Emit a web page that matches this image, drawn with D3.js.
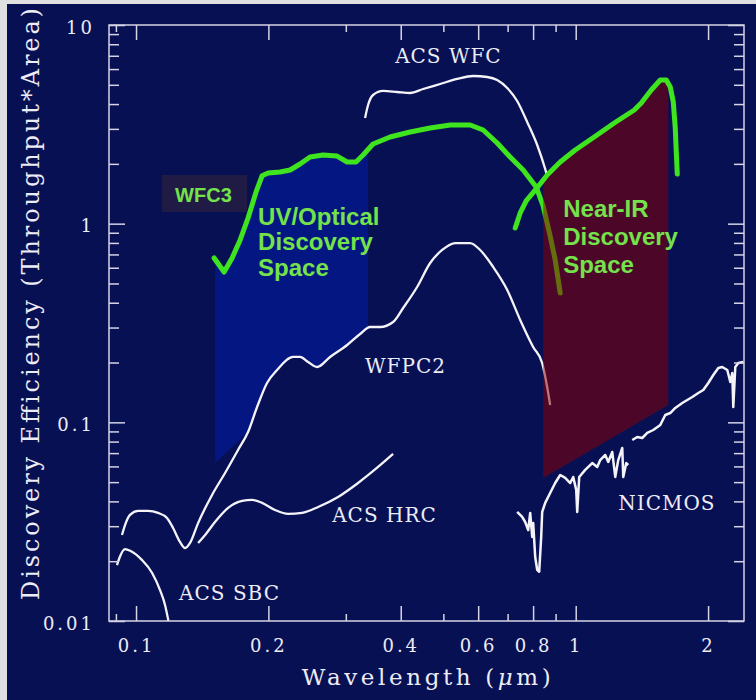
<!DOCTYPE html>
<html><head><meta charset="utf-8">
<script src="https://cdn.jsdelivr.net/npm/d3@7"></script>
<style>html,body{margin:0;padding:0;background:#e0e0e0;}svg{display:block;}</style>
</head><body>
<svg id="chart" width="756" height="700"></svg>
<script>
// ---------- data (wavelength in µm, discovery efficiency) ----------
const wavelengthTicks = [0.1, 0.2, 0.4, 0.6, 0.8, 1, 2];
const wavelengthTickLabels = ["0.1", "0.2", "0.4", "0.6", "0.8", "1", "2"];
const efficiencyTicks = [0.01, 0.1, 1, 10];
const efficiencyTickLabels = ["0.01", "0.1", "1", "10"];

const acsSbc = [[0.0905,0.0191],[0.0920,0.0212],[0.0944,0.0230],[0.0972,0.0225],[0.1031,0.0203],[0.1088,0.01745],[0.1134,0.0143],[0.1164,0.01205],[0.1185,0.0100]];

const wfpc2 = [[0.0929,0.0271],[0.0944,0.0304],[0.0969,0.0342],[0.1011,0.0358],[0.1065,0.0358],[0.1122,0.0350],[0.1176,0.0330],[0.1214,0.0294],[0.1259,0.0250],[0.1293,0.0233],[0.1327,0.0247],[0.1384,0.0311],[0.1489,0.0431],[0.1594,0.0556],[0.1706,0.0726],[0.1798,0.0894],[0.1885,0.1195],[0.1986,0.1578],[0.2093,0.1835],[0.2276,0.2133],[0.2361,0.2133],[0.2462,0.2012],[0.2581,0.1899],[0.2763,0.2133],[0.3021,0.2450],[0.3233,0.2784],[0.3406,0.3019],[0.3590,0.3019],[0.3843,0.3200],[0.4050,0.3763],[0.4358,0.4801],[0.4666,0.6339],[0.4969,0.7371],[0.5318,0.7990],[0.5754,0.7990],[0.6063,0.7371],[0.6491,0.6052],[0.6987,0.4637],[0.7477,0.3275],[0.8002,0.2394],[0.8388,0.1989],[0.8611,0.1506],[0.8747,0.1223]];

const acsHrc = [[0.1384,0.0247],[0.1436,0.0271],[0.1512,0.0315],[0.1620,0.0371],[0.1743,0.0402],[0.1836,0.0407],[0.1935,0.0393],[0.2071,0.0362],[0.2217,0.0346],[0.2386,0.0350],[0.2595,0.0375],[0.2881,0.0421],[0.3199,0.0495],[0.3552,0.0596],[0.3843,0.0693]];

const acsWfc = [[0.3318,3.403],[0.3371,3.956],[0.3460,4.444],[0.3648,4.655],[0.3925,4.601],[0.4202,4.548],[0.4498,4.764],[0.4916,5.048],[0.5374,5.349],[0.5845,5.538],[0.6290,5.474],[0.6628,5.288],[0.6987,4.820],[0.7359,4.145],[0.7756,3.250],[0.8173,2.489],[0.8523,1.885],[0.8611,1.738]];

const nicmos = [[0.7359,0.0354],[0.7555,0.0334],[0.7675,0.0315],[0.7797,0.0287],[0.7879,0.0350],[0.7962,0.0265],[0.8004,0.0311],[0.8088,0.0210],[0.8173,0.0181],[0.8259,0.0177],[0.8346,0.0265],[0.8390,0.0354],[0.8523,0.0393],[0.8747,0.0441],[0.8980,0.0495],[0.9220,0.0543],[0.9465,0.0525],[0.9716,0.0495],[0.9870,0.0531],[1.0026,0.0457],[1.0079,0.0354],[1.0185,0.0531],[1.0510,0.0576],[1.0904,0.0624],[1.1193,0.0596],[1.1370,0.0646],[1.1672,0.0685],[1.1857,0.0632],[1.2108,0.0709],[1.2300,0.0531],[1.2495,0.0646],[1.2760,0.0743],[1.2827,0.0531],[1.3030,0.0624],[1.3168,0.0610],null,[1.3447,0.0815],[1.3803,0.0844],[1.4167,0.0834],[1.4543,0.0884],[1.5009,0.0915],[1.5571,0.0970],[1.5984,0.1089],[1.6408,0.1114],[1.6843,0.1181],[1.7473,0.1251],[1.7936,0.1295],[1.8412,0.1341],[1.9001,0.1405],[1.9505,0.1455],[2.0023,0.1578],[2.0555,0.1731],[2.1100,0.1877],[2.1544,0.1899],[2.2117,0.1834],[2.2468,0.1596],[2.2704,0.1772],[2.2823,0.1194],[2.3064,0.1899],[2.3430,0.1989],[2.4052,0.2013]];

const wfc3Uvis = [[0.1505,0.672],[0.1545,0.619],[0.1586,0.571],[0.1654,0.672],[0.1725,0.828],[0.1798,1.068],[0.1875,1.444],[0.1935,1.742],[0.1997,1.799],[0.2126,1.820],[0.2241,1.863],[0.2361,1.997],[0.2488,2.165],[0.2663,2.216],[0.2866,2.190],[0.3021,2.044],[0.3165,2.044],[0.3284,2.216],[0.3460,2.518],[0.3783,2.731],[0.4202,2.894],[0.4666,3.031],[0.5183,3.138],[0.5754,3.138],[0.6159,2.961],[0.6628,2.547],[0.7094,2.165],[0.7595,1.863],[0.8130,1.530],[0.8432,1.227],[0.8747,0.867],[0.8982,0.656],[0.9220,0.448]];

const wfc3Ir = [[0.7284,0.951],[0.7477,1.132],[0.7715,1.301],[0.8130,1.495],[0.8611,1.758],[0.9220,2.044],[0.9974,2.349],[1.1017,2.731],[1.2236,3.212],[1.3589,3.734],[1.4096,4.050],[1.4853,4.709],[1.5571,5.288],[1.6068,5.288],[1.6408,4.876],[1.6668,4.098],[1.6843,3.031],[1.6932,2.295],[1.7021,1.778]];

// discovery-space regions
const uvSpaceRange = [0.1513, 0.3371];
const uvSpaceCorner = [0.1513, 0.0624];
const uvSpaceFloorJoin = 0.1798;
const nirSpaceRange = [0.8435, 1.6233];
const nirSpaceFloor = [[1.6233, 0.1223], [0.8435, 0.0525]];

// ---------- layout ----------
const W = 756, H = 700;
const plot = {left: 109, right: 744, top: 25, bottom: 621};
const svg = d3.select("#chart");

const x = d3.scaleLog().domain([0.0868, 2.414]).range([plot.left, plot.right]);
const y = d3.scaleLog().domain([0.01, 10]).range([plot.bottom, plot.top]);

const NAVY = "#081054", AXIS = "#d4d4e4", TEXT = "#ececf4";
const GREEN_LINE = "#3ee41e", GREEN_TEXT = "#74e24a";

svg.append("rect").attr("x", 7).attr("y", 4).attr("width", W - 7).attr("height", H - 4).attr("fill", NAVY);

svg.append("defs").append("clipPath").attr("id", "clip")
  .append("rect").attr("x", plot.left).attr("y", plot.top)
  .attr("width", plot.right - plot.left).attr("height", plot.bottom - plot.top);

const g = svg.append("g").attr("clip-path", "url(#clip)");

function interp(series, lam) {
  const s = series.filter(d => d);
  for (let i = 0; i < s.length - 1; i++) {
    const a = s[i], b = s[i + 1];
    if (lam >= a[0] && lam <= b[0]) {
      const t = (Math.log(lam) - Math.log(a[0])) / (Math.log(b[0]) - Math.log(a[0]));
      return Math.exp(Math.log(a[1]) + t * (Math.log(b[1]) - Math.log(a[1])));
    }
  }
  return lam < s[0][0] ? s[0][1] : s[s.length - 1][1];
}

const line = d3.line().defined(d => d).x(d => x(d[0])).y(d => y(d[1]));
const smooth = d3.line().defined(d => d).x(d => x(d[0])).y(d => y(d[1])).curve(d3.curveMonotoneX);

// UV/optical discovery space
const [u0, u1] = uvSpaceRange;
const uvPoly = [[u0, interp(wfc3Uvis, u0)]]
  .concat(wfc3Uvis.filter(d => d[0] > u0 && d[0] < u1))
  .concat([[u1, interp(wfc3Uvis, u1)], [u1, interp(wfpc2, u1)]])
  .concat(wfpc2.filter(d => d[0] >= uvSpaceFloorJoin && d[0] < u1).reverse())
  .concat([uvSpaceCorner]);
g.append("path").attr("d", line(uvPoly) + "Z").attr("fill", "#041682");

// white instrument curves
[acsSbc, wfpc2, acsHrc, acsWfc].forEach(s => {
  g.append("path").attr("d", smooth(s)).attr("fill", "none")
    .attr("stroke", "#f4f4f8").attr("stroke-width", 2.3).attr("stroke-linejoin", "round");
});
g.append("path").attr("d", line(nicmos)).attr("fill", "none")
  .attr("stroke", "#f4f4f8").attr("stroke-width", 2.5).attr("stroke-linejoin", "round");

// WFC3 UVIS
g.append("path").attr("d", line(wfc3Uvis)).attr("fill", "none")
  .attr("stroke", GREEN_LINE).attr("stroke-width", 5).attr("stroke-linejoin", "round").attr("stroke-linecap", "round");

// near-IR discovery space
const [n0, n1] = nirSpaceRange;
const nirPoly = [[n0, interp(wfc3Ir, n0)]]
  .concat(wfc3Ir.filter(d => d[0] > n0 && d[0] < n1))
  .concat([[n1, interp(wfc3Ir, n1)]])
  .concat(nirSpaceFloor);
g.append("path").attr("d", line(nirPoly) + "Z").attr("fill", "#8c0000").attr("fill-opacity", 0.52);

// WFC3 IR
g.append("path").attr("d", line(wfc3Ir)).attr("fill", "none")
  .attr("stroke", GREEN_LINE).attr("stroke-width", 5).attr("stroke-linejoin", "round").attr("stroke-linecap", "round");

// ---------- axes ----------
const near = (a, b) => Math.abs(a - b) / b < 1e-6;
const xMinor = x.ticks().filter(d => !wavelengthTicks.some(m => near(d, m)));
const yMinor = y.ticks().filter(d => !efficiencyTicks.some(m => near(d, m)));

function styleAxis(sel) {
  sel.select(".domain").remove();
  sel.selectAll("line").attr("stroke", AXIS).attr("stroke-width", 1.5);
  sel.selectAll("text").attr("fill", TEXT).attr("font-family", "DejaVu Serif")
    .attr("font-size", 18).attr("letter-spacing", 3);
}

const bottomMajor = svg.append("g").attr("transform", `translate(0,${plot.bottom})`)
  .call(d3.axisBottom(x).tickValues(wavelengthTicks).tickSize(-15).tickSizeOuter(0)
    .tickFormat((d, i) => wavelengthTickLabels[i]));
styleAxis(bottomMajor);
bottomMajor.selectAll("text").attr("y", 31).attr("dy", 0);
const bottomMinor = svg.append("g").attr("transform", `translate(0,${plot.bottom})`)
  .call(d3.axisBottom(x).tickValues(xMinor).tickSize(-7).tickSizeOuter(0).tickFormat(""));
styleAxis(bottomMinor);

const topMajor = svg.append("g").attr("transform", `translate(0,${plot.top})`)
  .call(d3.axisTop(x).tickValues(wavelengthTicks).tickSize(-15).tickSizeOuter(0).tickFormat(""));
styleAxis(topMajor);
const topMinor = svg.append("g").attr("transform", `translate(0,${plot.top})`)
  .call(d3.axisTop(x).tickValues(xMinor).tickSize(-7).tickSizeOuter(0).tickFormat(""));
styleAxis(topMinor);

const leftMajor = svg.append("g").attr("transform", `translate(${plot.left},0)`)
  .call(d3.axisLeft(y).tickValues(efficiencyTicks).tickSize(-16).tickSizeOuter(0).tickPadding(14)
    .tickFormat((d, i) => efficiencyTickLabels[i]));
styleAxis(leftMajor);
leftMajor.selectAll("text").attr("dy", "0.45em");
const leftMinor = svg.append("g").attr("transform", `translate(${plot.left},0)`)
  .call(d3.axisLeft(y).tickValues(yMinor).tickSize(-10).tickSizeOuter(0).tickFormat(""));
styleAxis(leftMinor);

const rightMajor = svg.append("g").attr("transform", `translate(${plot.right},0)`)
  .call(d3.axisRight(y).tickValues(efficiencyTicks).tickSize(-16).tickSizeOuter(0).tickFormat(""));
styleAxis(rightMajor);
const rightMinor = svg.append("g").attr("transform", `translate(${plot.right},0)`)
  .call(d3.axisRight(y).tickValues(yMinor).tickSize(-10).tickSizeOuter(0).tickFormat(""));
styleAxis(rightMinor);

svg.append("rect").attr("x", plot.left).attr("y", plot.top)
  .attr("width", plot.right - plot.left).attr("height", plot.bottom - plot.top)
  .attr("fill", "none").attr("stroke", AXIS).attr("stroke-width", 1.5);

// axis titles
const xt = svg.append("text").attr("x", 428).attr("y", 685).attr("text-anchor", "middle")
  .attr("fill", TEXT).attr("font-family", "DejaVu Serif").attr("font-size", 23).attr("letter-spacing", 3.6);
xt.append("tspan").text("Wavelength (");
xt.append("tspan").attr("font-style", "italic").text("μ");
xt.append("tspan").text("m)");

svg.append("text").attr("transform", "translate(39,304) rotate(-90)").attr("text-anchor", "middle")
  .attr("fill", TEXT).attr("font-family", "DejaVu Serif").attr("font-size", 24)
  .attr("textLength", 592).attr("lengthAdjust", "spacing")
  .text("Discovery Efficiency (Throughput*Area)");

// ---------- annotations ----------
const serifNotes = [
  {t: "ACS WFC", at: [0.3884, 6.44]},
  {t: "WFPC2", at: [0.3318, 0.1772]},
  {t: "ACS HRC", at: [0.2793, 0.0315]},
  {t: "ACS SBC", at: [0.1253, 0.01276]},
  {t: "NICMOS", at: [1.2495, 0.0362]}
];
serifNotes.forEach(n => {
  svg.append("text").attr("x", x(n.at[0])).attr("y", y(n.at[1]))
    .attr("fill", TEXT).attr("font-family", "DejaVu Serif").attr("font-size", 20)
    .attr("letter-spacing", 1).text(n.t);
});

// WFC3 tag
const tagAt = [0.1227, 1.2855];
svg.append("rect").attr("x", x(tagAt[0]) - 13).attr("y", y(tagAt[1]) - 27)
  .attr("width", 85).attr("height", 37).attr("fill", "#1f1b44");
svg.append("text").attr("x", x(tagAt[0])).attr("y", y(tagAt[1]))
  .attr("fill", GREEN_TEXT).attr("font-family", "Liberation Sans").attr("font-weight", "bold")
  .attr("font-size", 20).text("WFC3");

const spaceNotes = [
  {lines: ["UV/Optical", "Discovery", "Space"], at: [0.1895, 0.9847], lh: 25.5},
  {lines: ["Near-IR", "Discovery", "Space"], at: [0.9366, 1.0803], lh: 28}
];
spaceNotes.forEach(n => {
  const t = svg.append("text").attr("fill", GREEN_TEXT).attr("font-family", "Liberation Sans")
    .attr("font-weight", "bold").attr("font-size", 24);
  n.lines.forEach((l, i) => {
    t.append("tspan").attr("x", x(n.at[0])).attr("y", y(n.at[1]) + i * n.lh).text(l);
  });
});
</script>
</body></html>
